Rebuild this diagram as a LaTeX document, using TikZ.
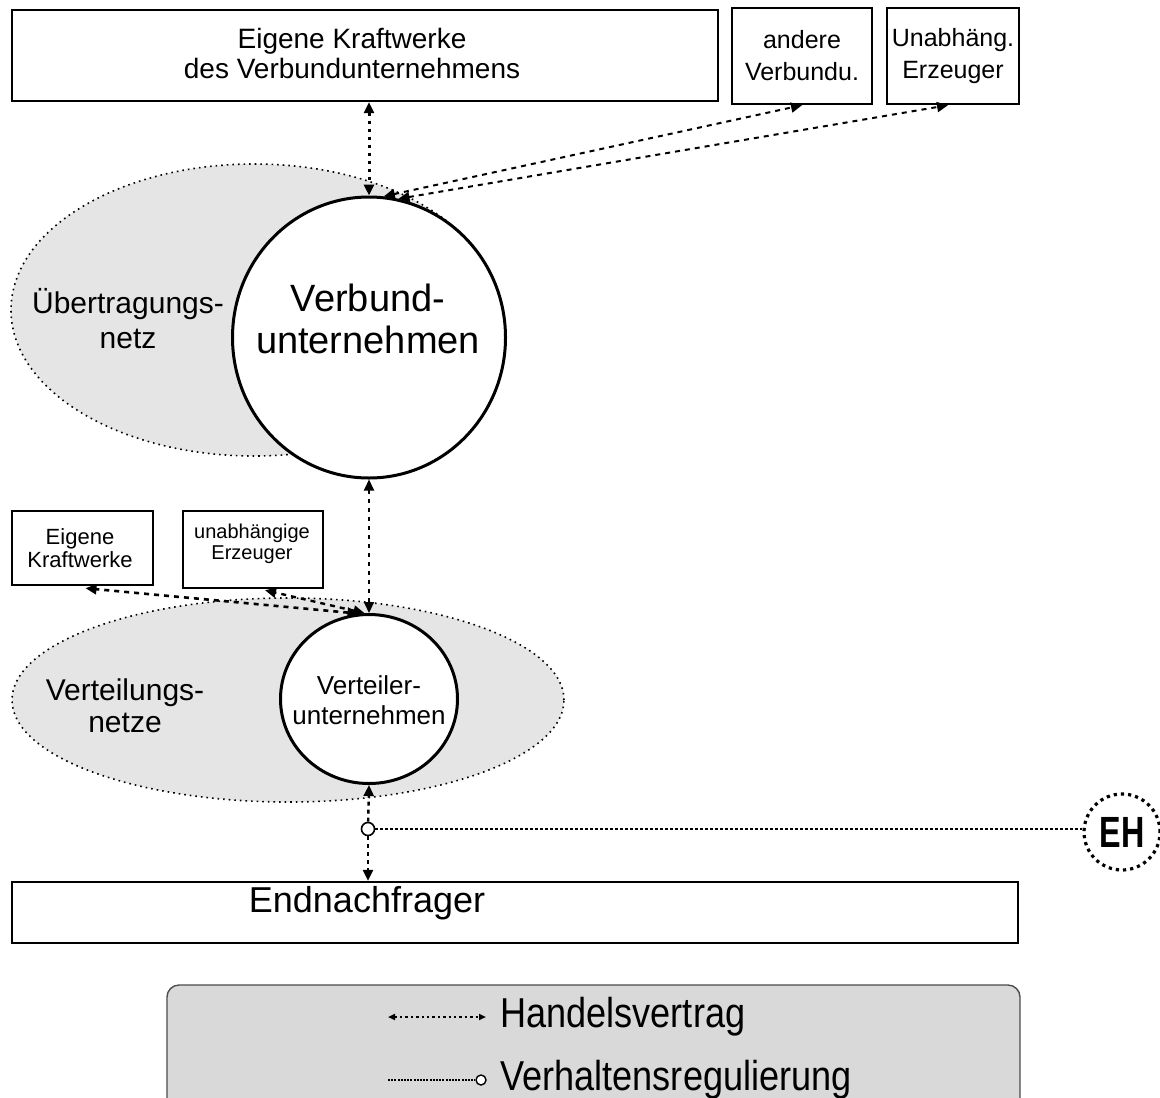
\documentclass[tikz,border=0pt]{standalone}
\usepackage{fontspec}
\setmainfont{Liberation Sans}
\usetikzlibrary{arrows.meta,shapes.geometric,calc}
\definecolor{netgray}{gray}{0.9}
\definecolor{leggray}{gray}{0.85}
\begin{document}
\begin{tikzpicture}[x=0.5pt,y=-0.5pt,
  box/.style={draw,line width=1.2pt,fill=white,inner sep=0pt},
  net/.style={ellipse,draw,dotted,line width=0.8pt,fill=netgray,inner sep=0pt},
  firm/.style={ellipse,draw,line width=1.5pt,fill=white,inner sep=0pt},
  trade/.style={line width=1pt,dash pattern=on 2.5pt off 2.5pt,{Triangle[length=5.5pt,width=5pt]}-{Triangle[length=5.5pt,width=5pt]}},
  tradesq/.style={line width=1.5pt,dash pattern=on 1.5pt off 2.5pt,{Triangle[length=5.5pt,width=5pt]}-{Triangle[length=5.5pt,width=5pt]}},
  tradethin/.style={line width=1pt,dash pattern=on 2pt off 2.5pt,{Triangle[length=5.5pt,width=5pt]}-{Triangle[length=5.5pt,width=5pt]}},
  single/.style={line width=1.2pt,dash pattern=on 2pt off 2pt,-{Triangle[length=5.5pt,width=5pt]}},
  regline/.style={line width=1.2pt,dash pattern=on 1.5pt off 1pt},
  txt/.style={align=center,inner sep=0pt}
]
\useasboundingbox (0,0) rectangle (1160,1097);

% top boxes
\node[box,minimum width=353pt,minimum height=45.5pt] (kw) at (365,55.5) {};
\node[txt,font=\fontsize{14}{15}\selectfont] (kwt) at (352,53) {Eigene Kraftwerke\\des Verbundunternehmens};
\node[box,minimum width=70pt,minimum height=48pt,txt,font=\fontsize{12.5}{16}\selectfont] (andere) at (802,56) {andere\\Verbundu.};
\node[box,minimum width=66pt,minimum height=48pt,txt,font=\fontsize{12.5}{16}\selectfont] (unabh) at (953,56) {Unabhäng.\\Erzeuger};

% transmission grid
\node[net,minimum width=243pt,minimum height=146pt] (uenetz) at (254,310) {};
\node[txt,font=\fontsize{15}{17.5}\selectfont] (uet) at (128,319) {Übertragungs-\\netz};
\node[firm,minimum width=136.5pt,minimum height=140.5pt] (vu) at (369,337.5) {};
\node[txt,font=\fontsize{19}{21}\selectfont] (vut) at (368,319) {Verbund-\\unternehmen};

% arrows at top
\draw[tradesq] (kw.south -| vu.north) -- (vu.north);
\draw[trade] (vu.84) -- (andere.south);
\draw[trade] (vu.78) -- ($(unabh.south)+(-5,0)$);

% small boxes
\node[box,minimum width=70.5pt,minimum height=37pt] (ek) at (82.5,548) {};
\node[txt,font=\fontsize{11}{11.5}\selectfont] (ekt) at (80,548) {Eigene\\Kraftwerke};
\node[box,minimum width=70pt,minimum height=38.5pt] (ua) at (253,549.5) {};
\node[txt,font=\fontsize{10}{10.5}\selectfont] (uat) at (252,544) {unabhängige\\Erzeuger};

% distribution grid
\node[net,minimum width=276pt,minimum height=102pt] (vnetz) at (288,700) {};
\node[txt,font=\fontsize{15}{16}\selectfont] (vnt) at (125,706) {Verteilungs-\\netze};
\node[firm,minimum width=88.5pt,minimum height=84.5pt] (vt) at (369,699) {};
\node[txt,font=\fontsize{13}{15}\selectfont] (vtt) at (369,700) {Verteiler-\\unternehmen};

\draw[tradethin] (vu.south) -- (vt.north);
\draw[trade,line width=1.3pt] (vt.97) -- ($(ek.south)+(3,2)$);
\draw[trade,line width=1.2pt] (vt.93) -- ($(ua.south)+(12,1)$);

% end customers
\node[box,minimum width=503pt,minimum height=30.5pt] (endn) at (515,912.5) {};
\node[txt,font=\fontsize{18}{18}\selectfont] (endt) at (367,903) {Endnachfrager};

% regulation
\node[circle,draw,line width=0.8pt,fill=white,minimum size=6.5pt,inner sep=0pt] (reg) at (368,829) {};
\draw[single] (reg) -- (vt.south);
\draw[single] (reg) -- (reg |- endn.north);
\node[circle,draw,dotted,line width=1.6pt,minimum size=38pt,inner sep=0pt,font=\bfseries\fontsize{19}{19}\selectfont] (eh) at (1122,832) {\scalebox{0.85}[1.15]{EH}};
\draw[regline] (reg) -- (reg -| eh.west);

% legend
\node[draw=black!70,line width=0.7pt,rounded corners=6pt,fill=leggray,minimum width=426.5pt,minimum height=72.5pt,inner sep=0pt] (legend) at (593.5,1057.5) {};
\coordinate (la1) at (388,1017);
\coordinate (la2) at (486,1017);
\draw[line width=0.9pt,dash pattern=on 1.2pt off 1.5pt,{Triangle[length=3.5pt,width=3pt]}-{Triangle[length=3.5pt,width=3pt]}] (la1) -- (la2);
\node[anchor=west,inner sep=0pt,font=\fontsize{19}{19}\selectfont] (lt1) at (500,1017) {\scalebox{0.95}[1.1]{Handelsvertrag}};
\coordinate (lb1) at (388,1080);
\node[circle,draw,line width=0.7pt,fill=white,minimum size=5pt,inner sep=0pt] (lbc) at (481,1080) {};
\draw[line width=1.1pt,dash pattern=on 1pt off 0.6pt] (lb1) -- (lbc);
\node[anchor=west,inner sep=0pt,font=\fontsize{19}{19}\selectfont] (lt2) at (500,1080) {\scalebox{0.95}[1.1]{Verhaltensregulierung}};
\end{tikzpicture}
\end{document}
